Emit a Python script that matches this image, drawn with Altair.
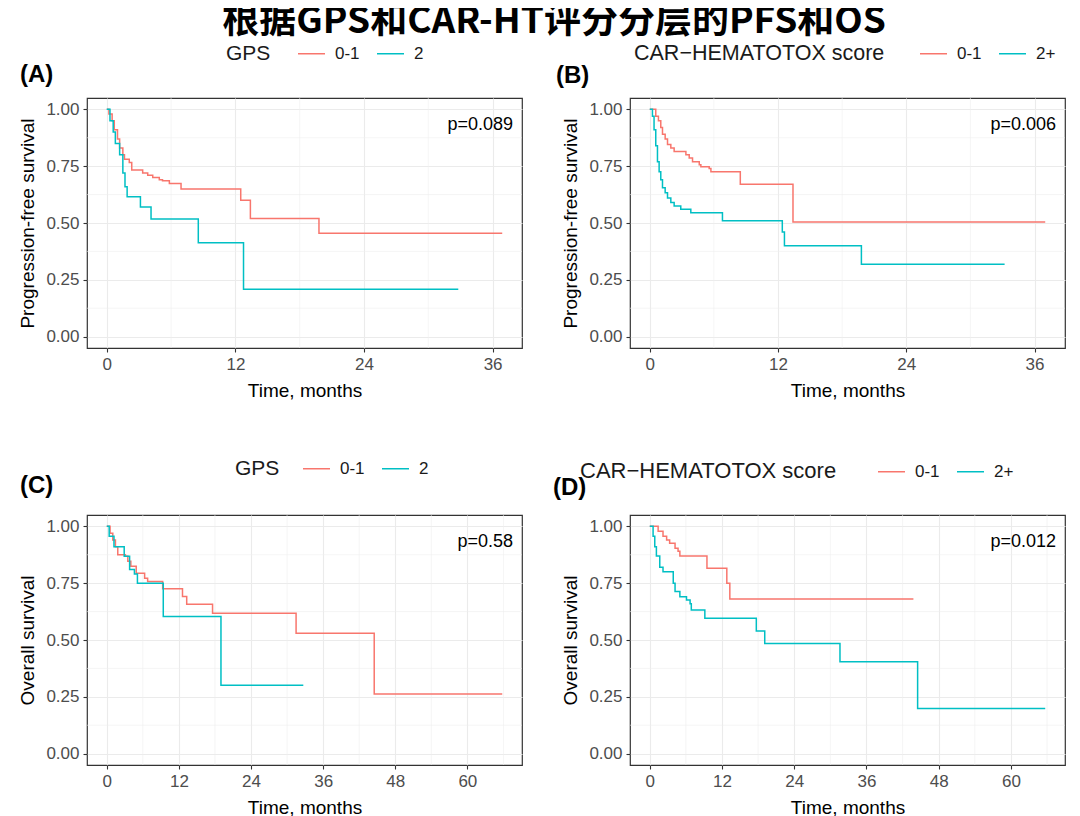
import altair as alt
import pandas as pd

RED = "#F8766D"
TEAL = "#00BFC4"
FONT = "Liberation Sans"

TITLE = "根据GPS和CAR-HT评分分层的PFS和OS"

# ---------------- data ----------------
# Panel A: PFS by GPS
A_T_01 = [0, 0.2, 0.5, 0.7, 1.0, 1.2, 1.5, 1.65, 2.1, 2.33, 3.35, 3.82, 4.29, 4.9, 5.2, 5.84, 6.93, 12.5, 13.4, 19.8, 36.9]
A_S_01 = [1.0, 0.98, 0.95, 0.91, 0.87, 0.83, 0.80, 0.78, 0.766, 0.733, 0.72, 0.71, 0.70, 0.69, 0.686, 0.674, 0.65, 0.60, 0.52, 0.455, 0.455]
A_T_2 = [0, 0.3, 0.6, 0.8, 1.2, 1.5, 1.7, 1.9, 3.14, 4.13, 8.54, 12.76, 32.8]
A_S_2 = [1.0, 0.95, 0.90, 0.85, 0.80, 0.72, 0.66, 0.616, 0.57, 0.518, 0.413, 0.209, 0.209]

# Panel B: PFS by CAR-HEMATOTOX
B_T_01 = [0, 0.56, 0.81, 1.03, 1.19, 1.44, 1.66, 1.97, 2.28, 3.38, 3.69, 4.0, 4.63, 4.78, 5.56, 5.72, 8.47, 13.4, 37.0]
B_S_01 = [1.0, 0.97, 0.95, 0.92, 0.89, 0.87, 0.845, 0.83, 0.815, 0.80, 0.786, 0.77, 0.756, 0.748, 0.74, 0.726, 0.67, 0.504, 0.504]
B_T_2 = [0, 0.25, 0.4, 0.56, 0.72, 0.875, 1.03, 1.19, 1.44, 1.66, 1.97, 2.28, 2.9, 3.84, 6.8, 12.4, 12.6, 19.8, 33.2]
B_S_2 = [1.0, 0.97, 0.91, 0.84, 0.77, 0.726, 0.69, 0.655, 0.633, 0.61, 0.59, 0.575, 0.56, 0.545, 0.51, 0.46, 0.40, 0.318, 0.318]

# Panel C: OS by GPS
C_T_01 = [0, 0.55, 1.0, 1.44, 1.83, 3.1, 3.5, 4.0, 4.9, 6.3, 6.8, 9.3, 12.6, 13.3, 17.6, 31.5, 44.5, 65.8]
C_S_01 = [1.0, 0.97, 0.94, 0.91, 0.875, 0.868, 0.846, 0.824, 0.794, 0.772, 0.757, 0.725, 0.691, 0.657, 0.618, 0.53, 0.262, 0.262]
C_T_2 = [0, 0.4, 1.2, 2.9, 3.8, 4.6, 5.1, 9.4, 19.0, 32.7]
C_S_2 = [1.0, 0.956, 0.91, 0.868, 0.81, 0.79, 0.75, 0.603, 0.301, 0.301]

# Panel D: OS by CAR-HEMATOTOX
D_T_01 = [0, 1.39, 2.2, 2.8, 3.3, 4.2, 4.7, 5.0, 9.5, 12.8, 13.3, 43.8]
D_S_01 = [1.0, 0.978, 0.956, 0.94, 0.926, 0.904, 0.89, 0.87, 0.816, 0.75, 0.68, 0.68]
D_T_2 = [0, 0.55, 0.83, 1.1, 1.66, 2.2, 3.9, 4.2, 5.0, 6.1, 6.7, 6.9, 9.15, 17.7, 19.1, 31.6, 44.5, 65.7]
D_S_2 = [1.0, 0.956, 0.91, 0.87, 0.82, 0.80, 0.75, 0.713, 0.69, 0.676, 0.66, 0.632, 0.596, 0.54, 0.485, 0.404, 0.199, 0.199]

LABELS = ["(A)", "(B)", "(C)", "(D)"]
LEGEND_TITLES = ["GPS", "CAR\u2212HEMATOTOX score", "GPS", "CAR\u2212HEMATOTOX score"]
GROUPS = [["0-1", "2"], ["0-1", "2+"], ["0-1", "2"], ["0-1", "2+"]]
Y_TITLES = ["Progression-free survival", "Progression-free survival", "Overall survival", "Overall survival"]
PVALUES = ["p=0.089", "p=0.006", "p=0.58", "p=0.012"]
X_TICKS_PFS = [0, 12, 24, 36]
X_TICKS_OS = [0, 12, 24, 36, 48, 60]
X_MINOR_PFS = [6, 18, 30]
X_MINOR_OS = [6, 18, 30, 42, 54, 66]
Y_TICKS = [0, 0.25, 0.5, 0.75, 1.0]
Y_MINOR = [0.125, 0.375, 0.625, 0.875]

SERIES = [
    [(A_T_01, A_S_01), (A_T_2, A_S_2)],
    [(B_T_01, B_S_01), (B_T_2, B_S_2)],
    [(C_T_01, C_S_01), (C_T_2, C_S_2)],
    [(D_T_01, D_S_01), (D_T_2, D_S_2)],
]

W, H = 435, 250
# layout / style settings per panel (pixels relative to plot origin)
LEGEND_POS = [(139, -59), (4, -59), (148, -61), (-50, -58)]
LEGEND_TITLE_PAD = [26, 34, 22, 40]
LEGEND_TITLE_SIZE = [21, 21.5, 21, 22]
LABEL_POS = [(-67, -23), (-74, -22), (-67, -29), (-77, -27)]


def panel(i):
    groups = GROUPS[i]
    rows = []
    for g, (ts, ss) in zip(groups, SERIES[i]):
        for t, s in zip(ts, ss):
            rows.append({"time": t, "surv": s, "group": g})
    df = pd.DataFrame(rows)

    is_os = i >= 2
    xticks = X_TICKS_OS if is_os else X_TICKS_PFS
    xminor = X_MINOR_OS if is_os else X_MINOR_PFS
    xmax = max(df["time"])
    pad = xmax * 0.05
    xscale = alt.Scale(domain=[-pad, xmax + pad], nice=False, zero=False)
    yscale = alt.Scale(domain=[-0.05, 1.05], nice=False, zero=False)

    xaxis = alt.Axis(values=xticks, title="Time, months", grid=True)
    yaxis = alt.Axis(values=Y_TICKS, format=".2f", title=Y_TITLES[i], grid=True)

    vminor = alt.Chart(pd.DataFrame({"v": xminor})).mark_rule(
        color="#EEEEEE", strokeWidth=0.6
    ).encode(x=alt.X("v:Q", scale=xscale, axis=xaxis))
    hminor = alt.Chart(pd.DataFrame({"v": Y_MINOR})).mark_rule(
        color="#EEEEEE", strokeWidth=0.6
    ).encode(y=alt.Y("v:Q", scale=yscale, axis=yaxis))

    lx, ly = LEGEND_POS[i]
    lines = alt.Chart(df).mark_line(interpolate="step-after", strokeWidth=1.5).encode(
        x=alt.X("time:Q", scale=xscale, axis=xaxis),
        y=alt.Y("surv:Q", scale=yscale, axis=yaxis),
        color=alt.Color(
            "group:N",
            scale=alt.Scale(domain=groups, range=[RED, TEAL]),
            legend=alt.Legend(
                title=LEGEND_TITLES[i],
                orient="none",
                legendX=lx,
                legendY=ly,
                direction="horizontal",
                titleOrient="left",
                titleAnchor="start",
                titleBaseline="line-top",
                titleLineHeight=30,
                titleFont=FONT,
                titleFontSize=LEGEND_TITLE_SIZE[i],
                titleFontWeight="normal",
                titleColor="#1A1A1A",
                titleLimit=400,
                titlePadding=LEGEND_TITLE_PAD[i],
                labelFont=FONT,
                labelFontSize=17,
                labelColor="#1A1A1A",
                labelOffset=9,
                columnPadding=14,
                symbolType="stroke",
                symbolSize=729,
                symbolStrokeWidth=1.5,
            ),
        ),
        detail="group:N",
    )

    ptext = alt.Chart(pd.DataFrame({"p": [PVALUES[i]]})).mark_text(
        font=FONT, fontSize=18, align="right", baseline="middle", color="black"
    ).encode(text="p:N", x=alt.value(W - 9), y=alt.value(27))

    lab = alt.Chart(pd.DataFrame({"l": [LABELS[i]]})).mark_text(
        font=FONT, fontSize=24, fontWeight="bold", align="left", baseline="middle", color="black"
    ).encode(text="l:N", x=alt.value(LABEL_POS[i][0]), y=alt.value(LABEL_POS[i][1]))

    return alt.layer(vminor, hminor, lines, ptext, lab).properties(width=W, height=H)


chart = alt.concat(
    panel(0), panel(1), panel(2), panel(3),
    columns=2,
    spacing={"row": 167, "column": 108},
    bounds="flush",
).resolve_scale(
    x="independent", y="independent", color="independent"
).properties(
    title=alt.TitleParams(
        TITLE, font="Noto Sans CJK SC", fontSize=37, fontWeight="bold",
        color="black", anchor="middle", dx=12, offset=-3,
    ),
    padding={"left": 10, "top": -5, "right": 5, "bottom": 0},
).configure_view(
    stroke="#333333", strokeWidth=1.2
).configure_axis(
    domain=False,
    gridColor="#EBEBEB",
    gridWidth=1.1,
    tickColor="#333333",
    tickSize=4,
    tickWidth=1.1,
    labelFont=FONT,
    labelFontSize=17,
    labelColor="#4D4D4D",
    labelPadding=4,
    titleFont=FONT,
    titleFontSize=19,
    titleFontWeight="normal",
    titleColor="black",
).configure_axisX(
    titlePadding=9
).configure_axisY(
    titlePadding=8
)

chart.save("out.html", embed_options={"renderer": "svg", "actions": False})
